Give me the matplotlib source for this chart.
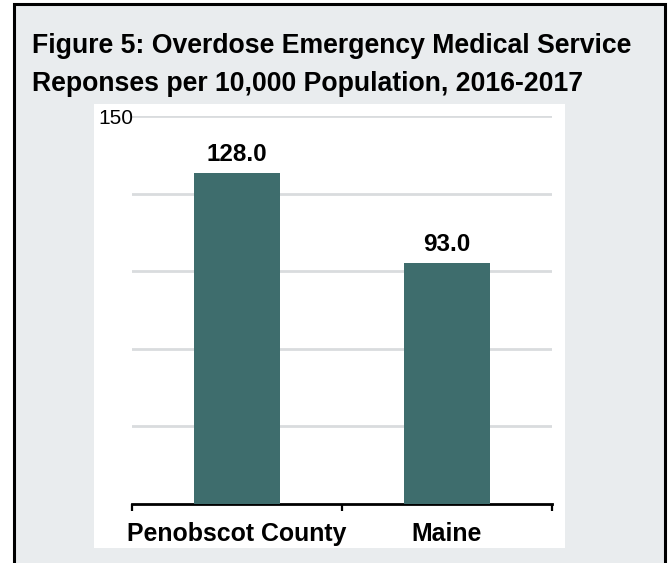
import matplotlib
matplotlib.use("Agg")
import matplotlib.pyplot as plt
from matplotlib.patches import Rectangle

categories = ["Penobscot County", "Maine"]
values = [128.0, 93.0]
grid_ticks = [30, 60, 90, 120, 150]
grid_labels = ["", "", "", "", "150"]
title_lines = ["Figure 5: Overdose Emergency Medical Service",
               "Reponses per 10,000 Population, 2016-2017"]

W, H = 669, 563
plt.rcParams['font.family'] = ['Liberation Sans', 'DejaVu Sans']
fig = plt.figure(figsize=(W / 100, H / 100), dpi=100, facecolor="white")

def fx(px):
    return px / W

def fy(py):
    return 1 - py / H

# outer gray card with black border
fig.patches.append(Rectangle((fx(13.5), fy(570)), fx(665) - fx(13.5), fy(3.5) - fy(570),
                             transform=fig.transFigure, facecolor="#e9ecee",
                             edgecolor="black", linewidth=2.2, zorder=0))
# white chart panel
fig.patches.append(Rectangle((fx(94), fy(548)), fx(565) - fx(94), fy(104) - fy(548),
                             transform=fig.transFigure, facecolor="white",
                             edgecolor="none", zorder=1))

for line, yb in zip(title_lines, [53, 91]):
    fig.text(fx(32), fy(yb), line, fontsize=19.2, fontweight="bold",
             va="baseline", ha="left", color="black")

ax = fig.add_axes([fx(132), fy(503.5), fx(552) - fx(132), fy(116) - fy(503.5)])
ax.set_facecolor("none")
ax.set_zorder(2)

x = list(range(len(categories)))
bars = ax.bar(x, values, width=0.405, color="#3e6d6d", zorder=3)
ax.bar_label(bars, labels=[f"{v:.1f}" for v in values], padding=5,
             fontsize=17.5, fontweight="bold", color="black")

ax.set_xlim(-0.5, len(categories) - 0.5)
ax.set_ylim(0, 150)
ax.set_yticks(grid_ticks)
ax.set_yticklabels(grid_labels, fontsize=15)
ax.tick_params(axis="y", length=0, pad=-1)
ax.yaxis.grid(True, color="#d9dcde", linewidth=2, zorder=0)
ax.set_axisbelow(True)

ax.set_xticks(x)
ax.set_xticklabels(categories, fontsize=17.9, fontweight="bold")
ax.set_xticks([i - 0.5 for i in range(len(categories) + 1)], minor=True)
ax.tick_params(axis="x", which="major", length=0, pad=13.5)
ax.tick_params(axis="x", which="minor", length=5, width=1.6, color="black", direction="out")

for s in ["top", "right", "left"]:
    ax.spines[s].set_visible(False)
ax.spines["bottom"].set_linewidth(2)
ax.spines["bottom"].set_color("black")

fig.savefig("out.png", dpi=100, facecolor="white")
